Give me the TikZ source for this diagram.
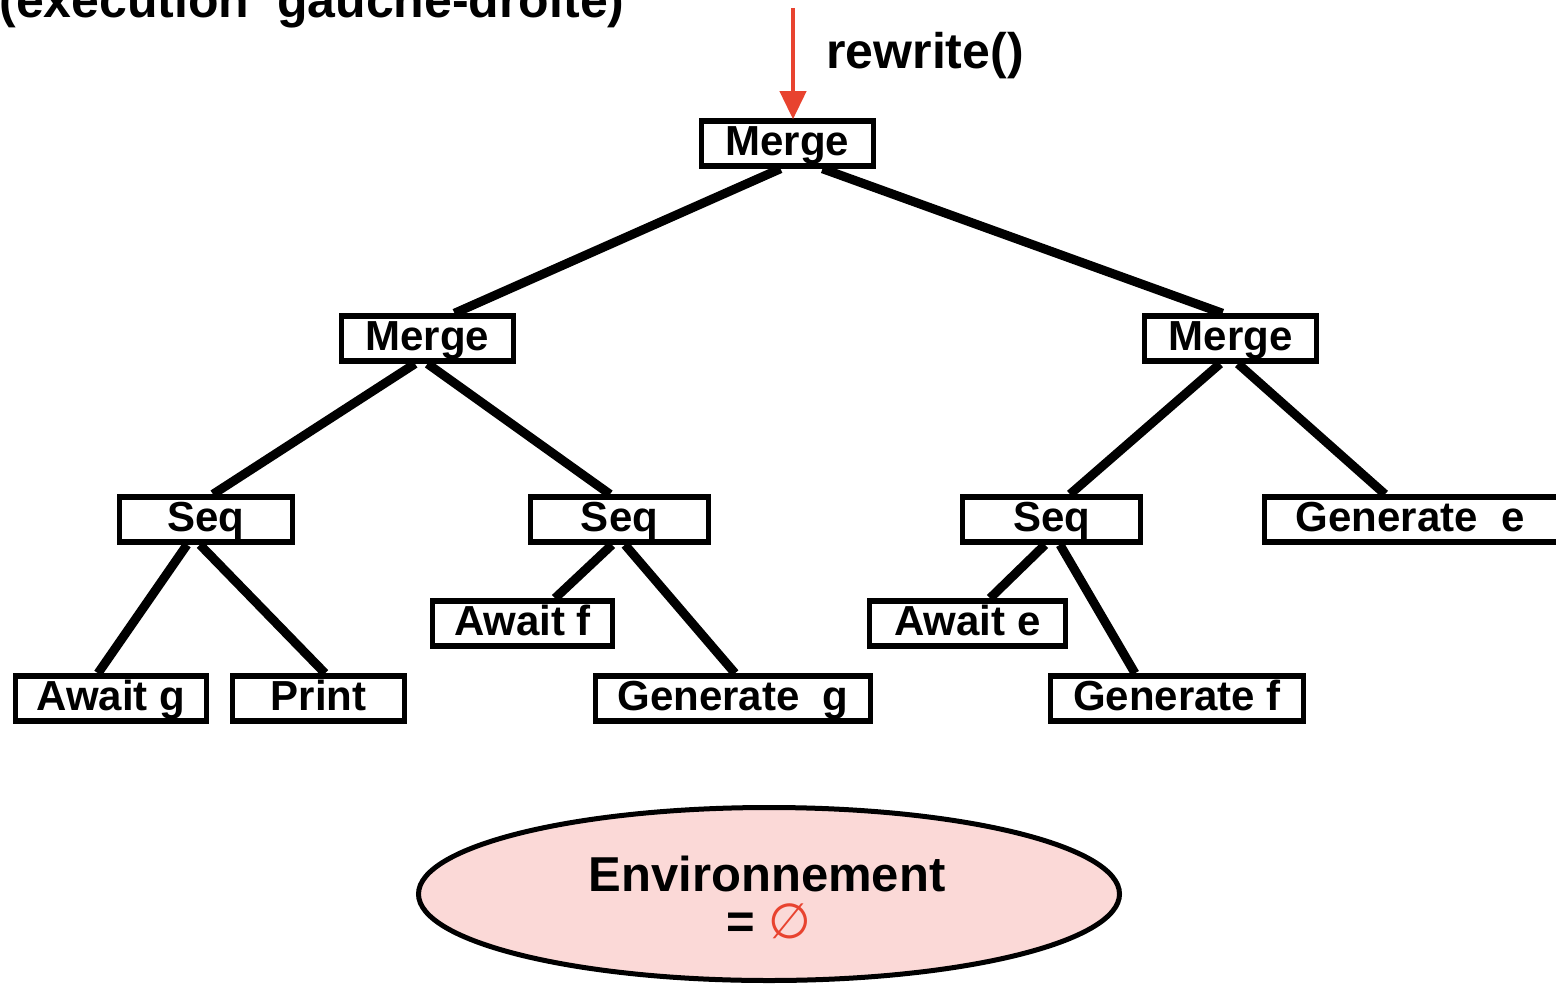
\documentclass[tikz,border=0pt]{standalone}
\usepackage{fontspec}
\setmainfont{Liberation Sans}
\newfontfamily\symfont{DejaVu Sans}
\usetikzlibrary{calc,shapes.geometric,arrows.meta}
\definecolor{arrowred}{HTML}{E8432F}
\definecolor{envpink}{HTML}{FBD9D7}
\begin{document}
\begin{tikzpicture}[x=0.5pt,y=-0.5pt,
  box/.style={draw,line width=2.75pt,fill=white,minimum height=22.5pt,inner sep=0pt,
    font=\fontsize{21}{25}\selectfont\bfseries,text height=15pt,text depth=3pt},
  edge/.style={line width=4.5pt},
  bigtext/.style={font=\fontsize{25}{30}\selectfont\bfseries,inner sep=0pt}]
\clip (0,0) rectangle (1556,984);

% caption
\node[bigtext,anchor=base west] (title) at (-1,18) {(exécution~ gauche-droite)};

% tree nodes
\node[box,minimum width=86pt]   (m0) at (787.5,143.5) {Merge};
\node[box,minimum width=86pt]   (m1) at (427.5,338.5) {Merge};
\node[box,minimum width=86pt]   (m2) at (1230.5,338.5) {Merge};
\node[box,minimum width=86.5pt] (s1) at (206,519.5) {Seq};
\node[box,minimum width=89pt]   (s2) at (619.5,519.5) {Seq};
\node[box,minimum width=89pt]   (s3) at (1051.5,519.5) {Seq};
\node[box,minimum width=151.5pt](ge) at (1416,519.5) {Generate~ e\hspace*{6pt}};
\node[box,minimum width=90pt]   (af) at (522.5,623.5) {Await f};
\node[box,minimum width=98pt]   (ae) at (967.5,623.5) {Await e};
\node[box,minimum width=95.5pt] (ag) at (111,698.5) {Await g};
\node[box,minimum width=86pt]   (pr) at (318.5,698.5) {Print};
\node[box,minimum width=137.5pt](gg) at (733,698.5) {Generate~ g};
\node[box,minimum width=126.5pt](gf) at (1177,698.5) {Generate f};

% connectors
\draw[edge] ($(m0.south)+(-7,0)$)   -- ($(m1.north)+(27,0)$);
\draw[edge] ($(m0.south)+(35,0)$)   -- ($(m2.north)+(-8,0)$);
\draw[edge] ($(m1.south)+(-12.5,0)$) -- ($(s1.north)+(7,0)$);
\draw[edge] ($(m1.south)+(0,0)$)    -- ($(s2.north)+(-9.5,0)$);
\draw[edge] ($(m2.south)+(-10.5,0)$) -- ($(s3.north)+(18.5,0)$);
\draw[edge] ($(m2.south)+(7.5,0)$)  -- ($(ge.north)+(-31,0)$);
\draw[edge] ($(s1.south)+(-19,0)$)  -- ($(ag.north)+(-13,0)$);
\draw[edge] ($(s1.south)+(-6,0)$)   -- ($(pr.north)+(6.5,0)$);
\draw[edge] ($(s2.south)+(-7.5,0)$) -- ($(af.north)+(32.5,0)$);
\draw[edge] ($(s2.south)+(5.5,0)$)  -- ($(gg.north)+(2,0)$);
\draw[edge] ($(s3.south)+(-6.5,0)$) -- ($(ae.north)+(22.5,0)$);
\draw[edge] ($(s3.south)+(8.5,0)$)  -- ($(gf.north)+(-42,0)$);

% entry arrow
\coordinate (rwtop) at (793,8);
\draw[line width=2pt,arrowred,-{Triangle[length=14pt,width=13pt]}]
  (rwtop) -- ($(m0.north)+(5.5,1)$);
\node[bigtext,anchor=base west] (rw) at (826,69) {rewrite()};

% environment
\node[draw,ellipse,line width=2.5pt,fill=envpink,minimum width=350.5pt,
  minimum height=86.5pt,inner sep=0pt] (env) at (769,894) {};
\node[anchor=base,inner sep=0pt,font=\fontsize{24.5}{29}\selectfont\bfseries]
  (envname) at (767,891) {Environnement};
\node[anchor=base,inner sep=0pt,font=\fontsize{24.5}{29}\selectfont\bfseries]
  (envval) at (769,938) {= {\symfont\mdseries\color{arrowred}∅}};
\end{tikzpicture}
\end{document}
